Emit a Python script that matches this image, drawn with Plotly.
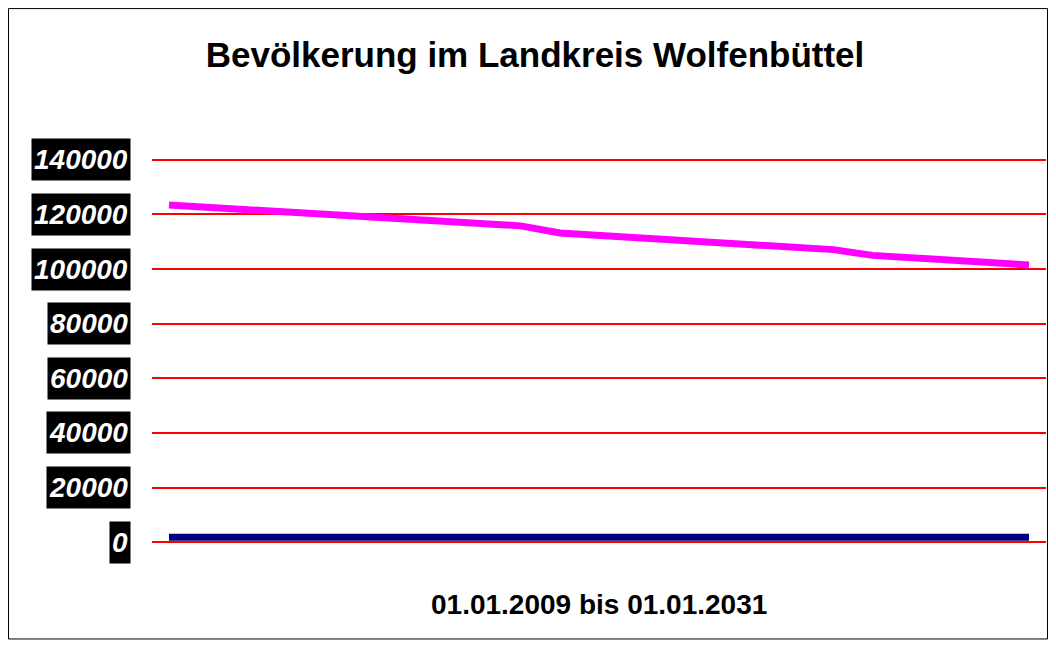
import plotly.graph_objects as go

# page has an 8px body margin, so the figure is drawn 8px smaller on each side
W, H = 1040, 632
years = list(range(2009, 2032))
bevoelkerung = [123.4, 122.6, 121.8, 120.9, 120.0, 119.2, 118.3, 117.5, 116.6, 115.8,
                113.2, 112.3, 111.4, 110.5, 109.7, 108.8, 107.9, 107.1,
                105.0, 104.1, 103.2, 102.4, 101.5]
bevoelkerung = [v * 1000 for v in bevoelkerung]
zweite_reihe = [1800] * len(years)
y_ticks = [0, 20000, 40000, 60000, 80000, 100000, 120000, 140000]
y_labels = [str(v) for v in y_ticks]
title_text = "Bevölkerung im Landkreis Wolfenbüttel"
x_title = "01.01.2009 bis 01.01.2031"

# layout geometry (pixels in figure coords)
y_zero_px, y_top_px = 534.7, 151.8
ymin, ymax = -1000, 141000
k = (y_zero_px - y_top_px) / 140000.0
T = y_top_px - (ymax - 140000) * k
B = H - (y_zero_px + (0 - ymin) * k)
L, R = 144, 2
pw, ph = W - L - R, H - T - B

fig = go.Figure()
fig.add_trace(go.Scatter(x=years, y=zweite_reihe, mode="lines",
                         line=dict(color="#000080", width=7), cliponaxis=False,
                         hoverinfo="skip", showlegend=False))
fig.add_trace(go.Scatter(x=years, y=bevoelkerung, mode="lines",
                         line=dict(color="#FF00FF", width=7), cliponaxis=False,
                         showlegend=False))

annotations = []
for v, lab in zip(y_ticks, y_labels):
    annotations.append(dict(x=0, xref="paper", y=v, yref="y", xanchor="right", yanchor="middle",
                            xshift=-21, text="<b>" + lab + "</b>", showarrow=False,
                            bgcolor="black", borderpad=2, height=37,
                            font=dict(family="Liberation Sans, Arial", size=28, color="white",
                                      style="italic")))
annotations.append(dict(x=0.5, xref="paper", y=0, yref="y", yshift=-62,
                        xanchor="center", yanchor="middle", text="<b>" + x_title + "</b>",
                        showarrow=False,
                        font=dict(family="Liberation Sans, Arial", size=28, color="black")))

fig.update_layout(
    width=W, height=H,
    margin=dict(l=L, r=R, t=T, b=B, pad=0),
    paper_bgcolor="white", plot_bgcolor="white",
    title=dict(text="<b>" + title_text + "</b>", x=527 / W, xanchor="center",
               y=1 - 47 / H, yanchor="middle", yref="container",
               font=dict(family="Liberation Sans, Arial", size=35, color="black")),
    xaxis=dict(range=[2009 - 0.435, 2031 + 0.435], showticklabels=False, showgrid=False,
               zeroline=False, showline=False, ticks=""),
    yaxis=dict(range=[ymin, ymax], tickvals=y_ticks, showticklabels=False, showgrid=True,
               gridcolor="#FF0000", gridwidth=2, zeroline=False, showline=False, ticks=""),
    annotations=annotations,
    shapes=[dict(type="rect", xref="paper", yref="paper",
                 x0=(0.5 - L) / pw, x1=(W - 0.5 - L) / pw,
                 y0=(B - 0.5) / ph * -1, y1=(H - B - 0.5) / ph,
                 line=dict(color="black", width=1),
                 fillcolor="rgba(0,0,0,0)", layer="below")],
    showlegend=False,
)
fig.write_html("out.html")
